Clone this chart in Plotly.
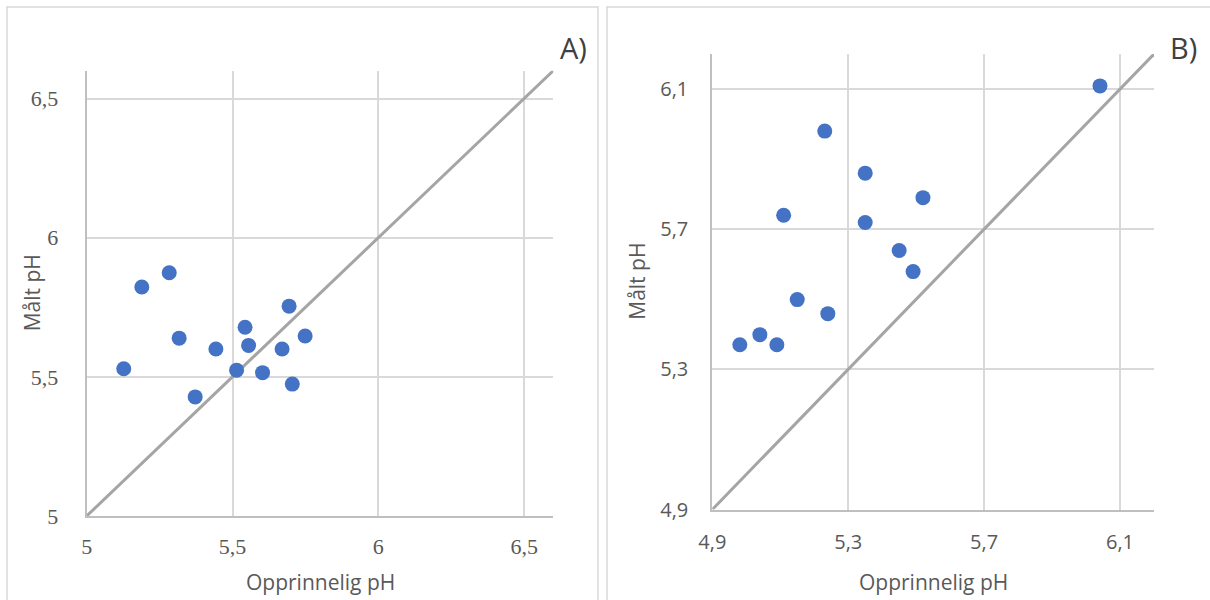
import plotly.graph_objects as go

W, H = 1210, 600

# ---------------- data ----------------
a_orig = [5.189, 5.283, 5.127, 5.317, 5.372, 5.443, 5.514, 5.543, 5.555, 5.603, 5.670, 5.694, 5.749, 5.705]
a_meas = [5.823, 5.874, 5.529, 5.639, 5.428, 5.600, 5.524, 5.678, 5.613, 5.515, 5.600, 5.754, 5.647, 5.474]

b_orig = [5.231, 5.350, 5.520, 5.110, 5.350, 5.450, 5.491, 5.150, 5.240, 5.040, 4.981, 5.090, 6.041]
b_meas = [5.980, 5.860, 5.790, 5.740, 5.719, 5.639, 5.579, 5.499, 5.459, 5.399, 5.370, 5.370, 6.109]

a_line = [5.0, 6.6]
b_line = [4.9, 6.2]

a_ticks = [5, 5.5, 6, 6.5]
a_ticktext = ["5", "5,5", "6", "6,5"]
b_ticks = [4.9, 5.3, 5.7, 6.1]
b_ticktext = ["4,9", "5,3", "5,7", "6,1"]

x_title = "Opprinnelig pH"
y_title = "Målt pH"
panel_labels = ["A)", "B)"]

# ---------------- style ----------------
BLUE = "#4472C4"
LINEC = "#A5A5A5"
GRID = "#D9D9D9"
AXISC = "#BFBFBF"
TXT = "#595959"
SANS = "Open Sans"
SERIF = "Liberation Serif"


def px_x(p):
    return p / W


def px_y(p):
    return 1 - p / H


fig = go.Figure()

# Panel A
fig.add_trace(go.Scatter(x=a_line, y=a_line, mode="lines", line=dict(color=LINEC, width=3),
                         xaxis="x", yaxis="y", hoverinfo="skip", showlegend=False))
fig.add_trace(go.Scatter(x=a_orig, y=a_meas, mode="markers",
                         marker=dict(color=BLUE, size=15, line=dict(width=0)),
                         xaxis="x", yaxis="y", showlegend=False))
# Panel B
fig.add_trace(go.Scatter(x=b_line, y=b_line, mode="lines", line=dict(color=LINEC, width=3),
                         xaxis="x2", yaxis="y2", hoverinfo="skip", showlegend=False))
fig.add_trace(go.Scatter(x=b_orig, y=b_meas, mode="markers",
                         marker=dict(color=BLUE, size=15, line=dict(width=0)),
                         xaxis="x2", yaxis="y2", showlegend=False))

# plot area positions
A_x0, A_x1, A_yb, A_yt = 86.7, 553.3, 516.0, 70.7
B_x0, B_x1, B_yb, B_yt = 712.3, 1154.0, 509.5, 54.0

common = dict(showgrid=True, gridcolor=GRID, gridwidth=1.5, zeroline=False,
              showline=True, linecolor=AXISC, linewidth=2, ticks="", fixedrange=True,
              automargin=False)

fig.update_layout(
    width=W, height=H, autosize=False,
    margin=dict(l=0, r=0, t=0, b=0, pad=0, autoexpand=False),
    paper_bgcolor="white", plot_bgcolor="white",
    showlegend=False,
    xaxis=dict(domain=[px_x(A_x0), px_x(A_x1)], range=[a_line[0], a_line[1]],
               tickvals=a_ticks, ticktext=a_ticktext, anchor="y",
               tickfont=dict(family=SERIF, size=22, color=TXT), ticklabelstandoff=10, **common),
    yaxis=dict(domain=[px_y(A_yb), px_y(A_yt)], range=[a_line[0], a_line[1]],
               tickvals=a_ticks, ticktext=a_ticktext, anchor="x",
               tickfont=dict(family=SERIF, size=22, color=TXT), ticklabelstandoff=22, **common),
    xaxis2=dict(domain=[px_x(B_x0), px_x(B_x1)], range=[b_line[0], b_line[1]],
                tickvals=b_ticks, ticktext=b_ticktext, anchor="y2",
                tickfont=dict(family=SANS, size=20, color=TXT), ticklabelstandoff=13, **common),
    yaxis2=dict(domain=[px_y(B_yb), px_y(B_yt)], range=[b_line[0], b_line[1]],
                tickvals=b_ticks, ticktext=b_ticktext, anchor="x2",
                tickfont=dict(family=SANS, size=20, color=TXT), ticklabelstandoff=18, **common),
)

# panel borders
for x0, x1 in [(7, 598), (607, 1216)]:
    fig.add_shape(type="rect", xref="paper", yref="paper",
                  x0=px_x(x0), x1=px_x(x1), y0=px_y(607), y1=px_y(7),
                  line=dict(color=GRID, width=1.5), fillcolor="rgba(0,0,0,0)", layer="below")

ann = []
# x titles
for cx in [(A_x0 + A_x1) / 2, (B_x0 + B_x1) / 2]:
    ann.append(dict(text=x_title, x=px_x(cx), y=px_y(582), xref="paper", yref="paper",
                    showarrow=False, xanchor="center", yanchor="middle",
                    font=dict(family=SANS, size=21, color=TXT)))
# y titles
for cx, cy in [(32, (A_yb + A_yt) / 2), (637, (B_yb + B_yt) / 2)]:
    ann.append(dict(text=y_title, x=px_x(cx), y=px_y(cy), xref="paper", yref="paper",
                    showarrow=False, xanchor="center", yanchor="middle", textangle=-90,
                    font=dict(family=SANS, size=21, color=TXT)))
# panel labels
for lab, cx in zip(panel_labels, [573, 1183]):
    ann.append(dict(text=lab, x=px_x(cx), y=px_y(48), xref="paper", yref="paper",
                    showarrow=False, xanchor="center", yanchor="middle",
                    font=dict(family=SANS, size=29, color="#404040")))
fig.update_layout(annotations=ann)

fig.write_html(
    "out.html",
    include_plotlyjs=True,
    config={"displayModeBar": False, "staticPlot": False},
    post_script="document.body.style.margin='0';document.body.style.overflow='hidden';",
)
